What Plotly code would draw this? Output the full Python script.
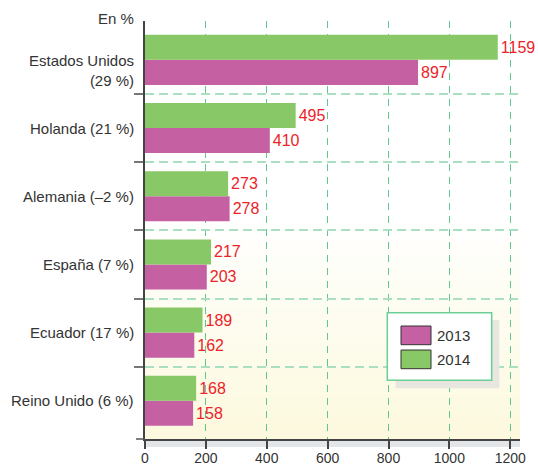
import plotly.graph_objects as go

# Categories listed bottom to top
categories = ["Reino Unido (6 %)", "Ecuador (17 %)", "España (7 %)",
              "Alemania (–2 %)", "Holanda (21 %)", "Estados Unidos<br>(29 %)"]
values_2013 = [158, 162, 203, 278, 410, 897]
values_2014 = [168, 189, 217, 273, 495, 1159]
x_ticks = [0, 200, 400, 600, 800, 1000, 1200]

GREEN = "#88c866"
MAGENTA = "#c561a3"
RED = "#ec2329"
TXT = "#333333"
FONT = "Liberation Sans, Arial, sans-serif"

pos = list(range(len(categories)))

fig = go.Figure()
for name, vals, col in [("2013", values_2013, MAGENTA), ("2014", values_2014, GREEN)]:
    fig.add_trace(go.Bar(
        x=vals, y=pos, orientation="h", name=name,
        marker=dict(color=col, line=dict(width=0)),
        text=vals, texttemplate="%{x}", textposition="outside",
        textfont=dict(color=RED, size=16, family=FONT),
        constraintext="none", cliponaxis=False, showlegend=False,
    ))

shapes = []
# soft yellow gradient toward the bottom of the plot area
N = 40
top = 0.52
c0 = (252, 249, 222)
for k in range(N):
    t = k / N
    r = round(c0[0] + (255 - c0[0]) * t)
    g = round(c0[1] + (255 - c0[1]) * t)
    b = round(c0[2] + (255 - c0[2]) * t)
    shapes.append(dict(type="rect", xref="x domain", yref="y domain",
                       x0=0, x1=1, y0=top * k / N, y1=top * (k + 1) / N + 0.002,
                       fillcolor=f"rgb({r},{g},{b})", line=dict(width=0), layer="below"))
# grey strip under the value axis
shapes.append(dict(type="rect", xref="x domain", yref="y domain",
                   x0=0, x1=1, y0=-8 / 418, y1=0,
                   fillcolor="#e2e6e8", line=dict(width=0), layer="below"))
# short extension of the value axis to the left
shapes.append(dict(type="line", xref="paper", yref="paper",
                   x0=-9 / 375, x1=0, y0=0, y1=0, line=dict(color="#555", width=1.5)))

# legend box with shadow
shapes.append(dict(type="rect", xref="paper", yref="paper",
                   x0=0.6685, x1=0.9448, y0=0.1213, y1=0.2847,
                   fillcolor="#e7e7df", line=dict(width=0)))
shapes.append(dict(type="rect", xref="paper", yref="paper",
                   x0=0.6461, x1=0.9245, y0=0.1404, y1=0.3022,
                   fillcolor="white", line=dict(color="#6ccf95", width=1.5)))
legend_items = [("2013", MAGENTA, 0.2256, 0.2703), ("2014", GREEN, 0.1682, 0.2129)]
annotations = []
for lab, col, y0, y1 in legend_items:
    shapes.append(dict(type="rect", xref="paper", yref="paper",
                       x0=0.6827, x1=0.7627, y0=y0, y1=y1,
                       fillcolor=col, line=dict(color="#333", width=1)))
    annotations.append(dict(xref="paper", yref="paper", x=0.774, y=(y0 + y1) / 2,
                            text=lab, showarrow=False, xanchor="left", yanchor="middle",
                            font=dict(size=15, color=TXT, family=FONT)))

# category labels
for p, cat in zip(pos, categories):
    multi = "<br>" in cat
    annotations.append(dict(xref="paper", yref="y", x=0, y=p, xshift=-9,
                            yshift=10 if multi else 0,
                            text=cat, showarrow=False, xanchor="right",
                            yanchor="top" if multi else "middle", align="right",
                            font=dict(size=15, color=TXT, family=FONT)))
annotations.append(dict(xref="paper", yref="paper", x=0, y=1, xshift=-9, yshift=3,
                        text="En %", showarrow=False, xanchor="right", yanchor="middle",
                        font=dict(size=15, color=TXT, family=FONT)))

fig.update_layout(
    width=538, height=465,
    margin=dict(l=145, r=18, t=21, b=26),
    paper_bgcolor="white", plot_bgcolor="rgba(0,0,0,0)",
    barmode="group", bargap=0.265, bargroupgap=0,
    shapes=shapes, annotations=annotations,
    font=dict(family=FONT, color=TXT),
    xaxis=dict(range=[0, 1232], tickvals=x_ticks, showline=True, linecolor="#444",
               linewidth=1.5, ticks="outside", ticklen=8, tickwidth=1.5, tickcolor="#444",
               tickfont=dict(size=14, color=TXT), ticklabelstandoff=-3,
               showgrid=True, gridcolor="#5fc88c",
               gridwidth=1, griddash="7px,6px", zeroline=False, fixedrange=True,
               automargin=False),
    yaxis=dict(range=[-0.56, 5.57], tickvals=[p + 0.5 for p in pos[:-1]],
               showticklabels=False, showline=True, linecolor="#444", linewidth=1.5,
               ticks="outside", ticklen=9, tickwidth=2, tickcolor="#777",
               showgrid=True, gridcolor="#aadfc2", gridwidth=2, griddash="9px,5px",
               zeroline=False, fixedrange=True, automargin=False),
)

fig.write_html("out.html")
